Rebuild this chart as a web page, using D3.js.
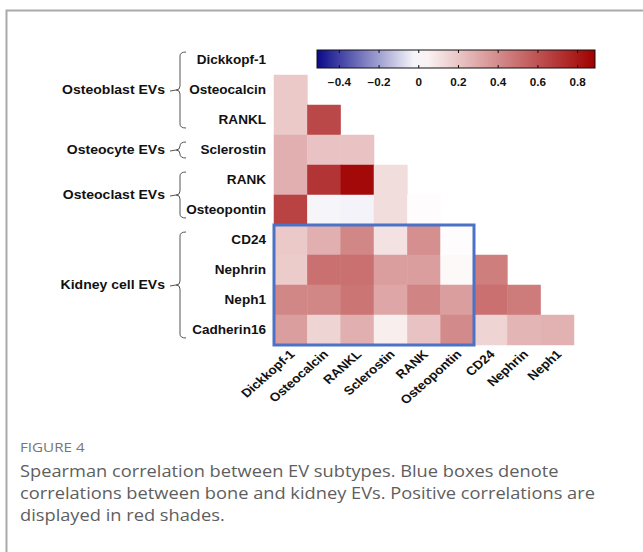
<!DOCTYPE html>
<html>
<head>
<meta charset="utf-8">
<script src="https://cdn.jsdelivr.net/npm/d3@7"></script>
<style>
  body { margin: 0; background: #fff; }
  svg { display: block; }
</style>
</head>
<body>
<div id="chart"></div>
<script>
// Row labels (top to bottom) and column labels (left to right)
const rowLabels = ['Dickkopf-1', 'Osteocalcin', 'RANKL', 'Sclerostin', 'RANK', 'Osteopontin',
    'CD24', 'Nephrin', 'Neph1', 'Cadherin16'];
const colLabels = ['Dickkopf-1', 'Osteocalcin', 'RANKL', 'Sclerostin', 'RANK', 'Osteopontin',
    'CD24', 'Nephrin', 'Neph1'];

// Lower-triangle Spearman rho, one array per row
const rhoOsteocalcin = [0.19];
const rhoRANKL = [0.19, 0.64];
const rhoSclerostin = [0.28, 0.21, 0.21];
const rhoRANK = [0.28, 0.71, 0.86, 0.12];
const rhoOsteopontin = [0.66, -0.02, -0.025, 0.12, 0.01];
const rhoCD24 = [0.19, 0.28, 0.42, 0.10, 0.39, 0.01];
const rhoNephrin = [0.18, 0.50, 0.50, 0.34, 0.34, 0.02, 0.45];
const rhoNeph1 = [0.42, 0.42, 0.48, 0.31, 0.43, 0.34, 0.50, 0.46];
const rhoCadherin16 = [0.34, 0.15, 0.28, 0.06, 0.21, 0.41, 0.15, 0.26, 0.27];
const rhoRows = [[], rhoOsteocalcin, rhoRANKL, rhoSclerostin, rhoRANK, rhoOsteopontin,
    rhoCD24, rhoNephrin, rhoNeph1, rhoCadherin16];

// Groups of rows (first row, last row)
const groups = [
    { name: 'Osteoblast EVs', from: 'Dickkopf-1', to: 'RANKL' },
    { name: 'Osteocyte EVs', from: 'Sclerostin', to: 'Sclerostin' },
    { name: 'Osteoclast EVs', from: 'RANK', to: 'Osteopontin' },
    { name: 'Kidney cell EVs', from: 'CD24', to: 'Cadherin16' }
];

const legendTicks = [-0.4, -0.2, 0, 0.2, 0.4, 0.6, 0.8];
const legendDomain = [-0.51, 0.89];

const captionTitle = 'FIGURE 4';
const captionLines = [
    'Spearman correlation between EV subtypes. Blue boxes denote',
    'correlations between bone and kidney EVs. Positive correlations are',
    'displayed in red shades.'
];

const W = 643, H = 552;
// the source figure is stretched sideways a little, text included
const SX = 1.17, SX_ROW = 1.13, SX_CAP = 1.12;
const svg = d3.select('#chart').append('svg').attr('width', W).attr('height', H);

// figure frame (top + left rule)
svg.append('path')
    .attr('d', `M6.5,${H}V10.5H${W}`)
    .attr('fill', 'none').attr('stroke', '#aaa').attr('stroke-width', 2);

const color = d3.scaleLinear()
    .domain([-0.51, 0, 0.89])
    .range(['#0a0a8a', '#ffffff', '#a00000'])
    .clamp(true);

const x = d3.scaleBand().domain(colLabels).range([274, 574]);
const y = d3.scaleBand().domain(rowLabels).range([45, 345]);

const cells = [];
rhoRows.forEach((vals, i) => {
    vals.forEach((v, j) => cells.push({ row: rowLabels[i], col: colLabels[j], v }));
});

svg.append('g').selectAll('rect')
    .data(cells)
    .join('rect')
    .attr('x', d => x(d.col))
    .attr('y', d => y(d.row))
    .attr('width', x.bandwidth())
    .attr('height', y.bandwidth())
    .attr('fill', d => color(d.v))
    .attr('stroke', d => color(d.v))
    .attr('stroke-width', 0.5);

// blue box around bone x kidney block
svg.append('rect')
    .attr('x', x('Dickkopf-1'))
    .attr('y', y('CD24'))
    .attr('width', x('CD24') - x('Dickkopf-1'))
    .attr('height', y('Cadherin16') + y.bandwidth() - y('CD24'))
    .attr('fill', 'none')
    .attr('stroke', '#4a72c6')
    .attr('stroke-width', 3);

const labelFont = 'Liberation Sans, Arial, sans-serif';

// row labels
svg.append('g').selectAll('text')
    .data(rowLabels)
    .join('text')
    .attr('transform', d => `translate(266,${y(d) + y.bandwidth() / 2}) scale(${SX_ROW},1)`)
    .attr('dy', '0.35em')
    .attr('text-anchor', 'end')
    .attr('font-family', labelFont)
    .attr('font-weight', 'bold')
    .attr('font-size', 12)
    .attr('fill', '#111')
    .text(d => d);

// column labels, rotated
svg.append('g').selectAll('text')
    .data(colLabels)
    .join('text')
    .attr('transform', d => `translate(${x(d) + x.bandwidth() / 2 + 5},355) scale(${SX_ROW},1) rotate(-45)`)
    .attr('text-anchor', 'end')
    .attr('font-family', labelFont)
    .attr('font-weight', 'bold')
    .attr('font-size', 12)
    .attr('fill', '#111')
    .text(d => d);

// group braces + labels
const braceX = 180;
groups.forEach(g => {
    const y0 = y(g.from) + 7;
    const y1 = y(g.to) + y.bandwidth() - 7;
    const ym = (y0 + y1) / 2;
    const r = 4;
    const p = d3.path();
    p.moveTo(braceX + 6, y0);
    p.quadraticCurveTo(braceX, y0, braceX, y0 + r);
    p.lineTo(braceX, ym - r);
    p.quadraticCurveTo(braceX, ym, braceX - 4, ym);
    p.quadraticCurveTo(braceX, ym, braceX, ym + r);
    p.lineTo(braceX, y1 - r);
    p.quadraticCurveTo(braceX, y1, braceX + 6, y1);
    svg.append('path')
        .attr('d', p.toString())
        .attr('fill', 'none')
        .attr('stroke', '#555')
        .attr('stroke-width', 1);
    svg.append('line')
        .attr('x1', braceX - 10).attr('x2', braceX - 4)
        .attr('y1', ym + 1).attr('y2', ym)
        .attr('stroke', '#555').attr('stroke-width', 1);
    svg.append('text')
        .attr('transform', `translate(${braceX - 15},${ym}) scale(${SX},1)`)
        .attr('dy', '0.35em')
        .attr('text-anchor', 'end')
        .attr('font-family', labelFont)
        .attr('font-weight', 'bold')
        .attr('font-size', 12)
        .attr('fill', '#111')
        .text(g.name);
});

// colour bar legend
const lx = d3.scaleLinear().domain(legendDomain).range([317, 595]);
const defs = svg.append('defs');
const grad = defs.append('linearGradient').attr('id', 'rhoGrad');
d3.range(0, 1.0001, 0.05).forEach(t => {
    const v = legendDomain[0] + t * (legendDomain[1] - legendDomain[0]);
    grad.append('stop').attr('offset', t).attr('stop-color', color(v));
});
const barTop = 50, barH = 18;
svg.append('rect')
    .attr('x', lx.range()[0]).attr('y', barTop)
    .attr('width', lx.range()[1] - lx.range()[0]).attr('height', barH)
    .attr('fill', 'url(#rhoGrad)')
    .attr('stroke', '#111').attr('stroke-width', 1);

const axB = svg.append('g')
    .attr('transform', `translate(0,${barTop + barH})`)
    .call(d3.axisBottom(lx).tickValues(legendTicks).tickSizeInner(-3).tickSizeOuter(0).tickPadding(11)
        .tickFormat(d3.format('')));
axB.select('.domain').remove();
axB.selectAll('line').attr('stroke', '#111');
axB.selectAll('text')
    .attr('transform', `scale(${SX},1)`)
    .attr('font-family', labelFont)
    .attr('font-weight', 'bold')
    .attr('font-size', 10)
    .attr('fill', '#111');

const axT = svg.append('g')
    .attr('transform', `translate(0,${barTop})`)
    .call(d3.axisTop(lx).tickValues(legendTicks).tickSizeInner(-3).tickSizeOuter(0).tickFormat(''));
axT.select('.domain').remove();
axT.selectAll('line').attr('stroke', '#111');

// caption
svg.append('text')
    .attr('transform', `translate(20,452) scale(${SX},1)`)
    .attr('font-family', 'Open Sans, sans-serif')
    .attr('font-size', 13)
    .attr('fill', '#777')
    .text(captionTitle);

svg.append('g').selectAll('text')
    .data(captionLines)
    .join('text')
    .attr('transform', (d, i) => `translate(20,${477 + i * 22}) scale(${SX_CAP},1)`)
    .attr('font-family', 'Open Sans, sans-serif')
    .attr('font-size', 16.3)
    .attr('fill', '#5e5e5e')
    .text(d => d);
</script>
</body>
</html>
